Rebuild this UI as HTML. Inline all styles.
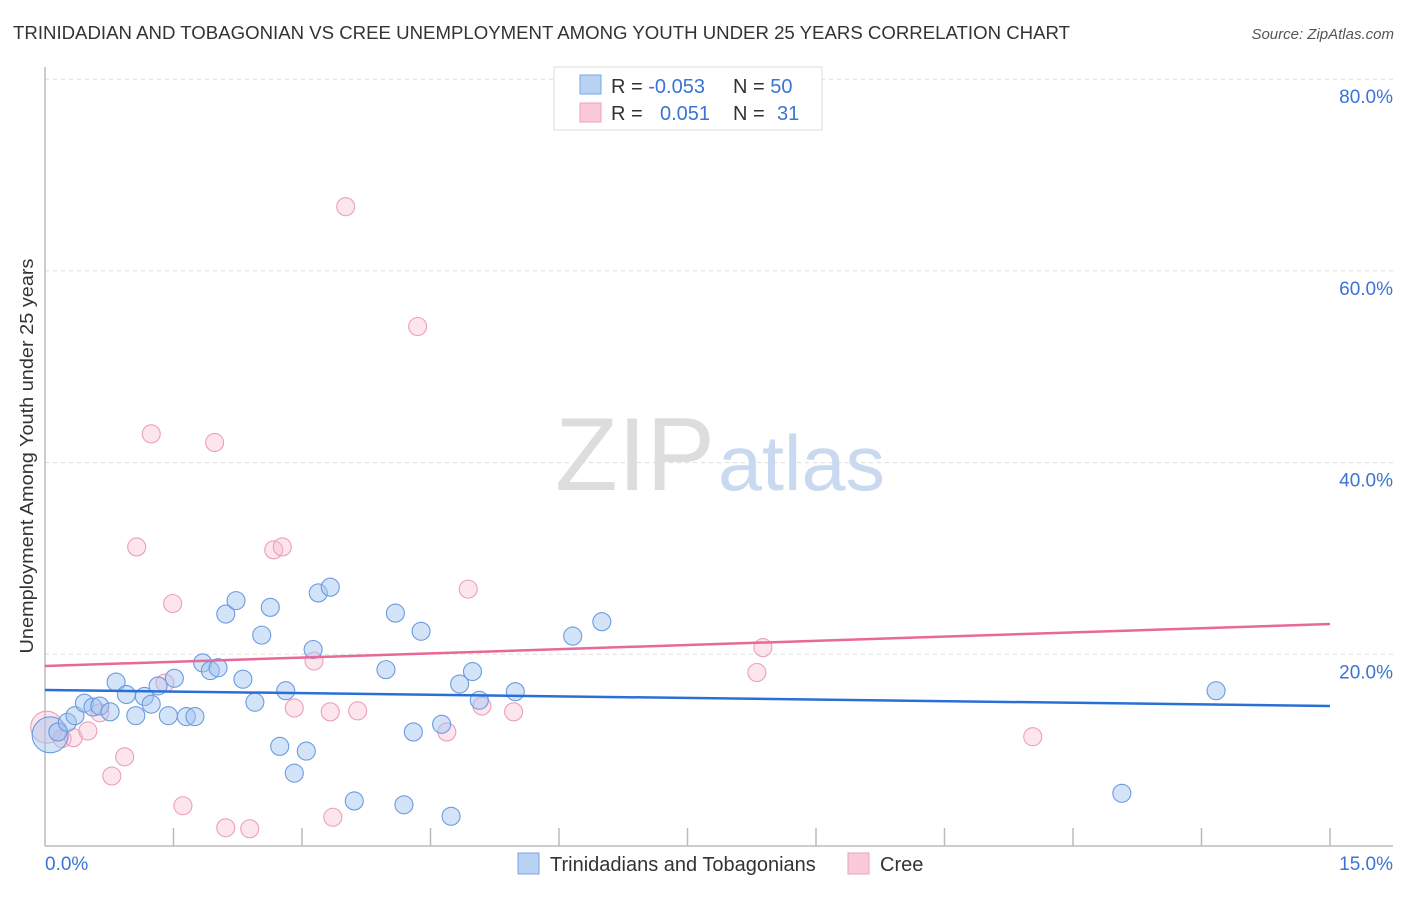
<!DOCTYPE html>
<html><head><meta charset="utf-8"><style>
body{margin:0;background:#fff;font-family:"Liberation Sans",sans-serif;}
svg text{font-family:"Liberation Sans",sans-serif;}
</style></head><body>
<svg id="chart" width="1406" height="892" viewBox="0 0 1406 892" xmlns="http://www.w3.org/2000/svg">
<text x="13" y="39" font-size="18" fill="#333" textLength="1057" lengthAdjust="spacingAndGlyphs">TRINIDADIAN AND TOBAGONIAN VS CREE UNEMPLOYMENT AMONG YOUTH UNDER 25 YEARS CORRELATION CHART</text>
<text x="1394" y="39" font-size="15" font-style="italic" fill="#555" text-anchor="end">Source: ZipAtlas.com</text>
<g id="grid"></g>
<g>
<text x="555" y="490" font-size="104" font-family="Liberation Serif,serif" fill="#ddd" textLength="160" lengthAdjust="spacingAndGlyphs">ZIP</text>
<text x="718" y="490" font-size="78" fill="#c8d9f0" textLength="167" lengthAdjust="spacingAndGlyphs">atlas</text>
</g>
<line x1="45" y1="67" x2="45" y2="846" stroke="#bbb" stroke-width="1.5"/>
<line x1="45" y1="846" x2="1393" y2="846" stroke="#bbb" stroke-width="1.5"/>
<g id="ticks"></g>
<g id="points"></g>
<g id="trends"></g>
<text transform="translate(33,456) rotate(-90)" font-size="18" fill="#333" text-anchor="middle" textLength="395" lengthAdjust="spacingAndGlyphs">Unemployment Among Youth under 25 years</text>
<text x="45" y="870" font-size="19" fill="#3a74d4">0.0%</text>
<text x="1393" y="870" font-size="19" fill="#3a74d4" text-anchor="end">15.0%</text>
<g>
<rect x="554" y="67" width="268" height="63" fill="#fff" stroke="#ddd"/>
<rect x="580" y="75" width="21" height="19" fill="#b8d2f4" stroke="#7aa6e4"/>
<rect x="580" y="103" width="21" height="19" fill="#fbcad9" stroke="#eea3bb"/>
<text x="611" y="93" font-size="20" fill="#333">R = <tspan fill="#3a74d4">-0.053</tspan><tspan x="733">N = </tspan><tspan fill="#3a74d4">50</tspan></text>
<text x="611" y="120" font-size="20" fill="#333">R = <tspan x="660" fill="#3a74d4">0.051</tspan><tspan x="733">N = </tspan><tspan x="777" fill="#3a74d4">31</tspan></text>
</g>
<g>
<rect x="518" y="853" width="21" height="21" fill="#b8d2f4" stroke="#7aa6e4"/>
<text x="550" y="871" font-size="20" fill="#333">Trinidadians and Tobagonians</text>
<rect x="848" y="853" width="21" height="21" fill="#fbcad9" stroke="#eea3bb"/>
<text x="880" y="871" font-size="20" fill="#333">Cree</text>
</g>
</svg>
<script>
const yTicks=[20,40,60,80];
const yTickLabels=["20.0%","40.0%","60.0%","80.0%"];
const xTicks=[1.5,3,4.5,6,7.5,9,10.5,12,13.5,15];
const blueX=[0.06,0.15,0.26,0.35,0.46,0.56,0.64,0.76,0.83,0.95,1.06,1.16,1.24,1.32,1.44,1.51,1.65,1.75,1.84,1.93,2.02,2.11,2.23,2.31,2.45,2.53,2.63,2.74,2.81,2.91,3.05,3.13,3.19,3.33,3.61,3.98,4.09,4.19,4.30,4.39,4.63,4.74,4.84,4.99,5.07,5.49,6.16,6.50,12.57,13.67];
const blueY=[11.6,11.9,12.9,13.6,14.9,14.5,14.6,14.0,17.1,15.8,13.6,15.6,14.8,16.7,13.6,17.5,13.5,13.5,19.1,18.3,18.6,24.2,25.6,17.4,15.0,22.0,24.9,10.4,16.2,7.6,9.9,20.5,26.4,27.0,4.7,18.4,24.3,4.3,11.9,22.4,12.7,3.1,16.9,18.2,15.2,16.1,21.9,23.4,5.5,16.2];
const pinkX=[0.02,0.20,0.33,0.50,0.64,0.78,0.93,1.07,1.24,1.40,1.49,1.61,1.98,2.11,2.39,2.67,2.77,2.91,3.14,3.33,3.36,3.51,3.65,4.35,4.69,4.94,5.10,5.47,8.31,8.38,11.53];
const pinkY=[12.4,11.2,11.3,12.0,13.9,7.3,9.3,31.2,43.0,17.0,25.3,4.2,42.1,1.9,1.8,30.9,31.2,14.4,19.3,14.0,3.0,66.7,14.1,54.2,11.9,26.8,14.6,14.0,18.1,20.7,11.4];
const blueTrend=[16.28,14.61];
const pinkTrend=[18.78,23.16];
const trendX=[0,15];
const NS="http://www.w3.org/2000/svg";
const xs=v=>45+v*1285/15;
const ys=v=>846-v*9.585;
function mk(tag,attrs,parent){const e=document.createElementNS(NS,tag);for(const k in attrs)e.setAttribute(k,attrs[k]);parent.appendChild(e);return e;}
const grid=document.getElementById('grid');
yTicks.forEach((t,i)=>{
 const l=mk('line',{x1:45,x2:1393,y1:ys(t),y2:ys(t),stroke:'#ddd','stroke-dasharray':'4,4'},grid);
 
 
 const tx=mk('text',{x:1393,y:ys(t)+24,'font-size':19,fill:'#3a74d4','text-anchor':'end'},grid);
 tx.textContent=yTickLabels[i];
 
 
});
const ticks=document.getElementById('ticks');
xTicks.forEach(t=>{
 const l=mk('line',{x1:xs(t),x2:xs(t),y1:828,y2:846,stroke:'#bbb','stroke-width':1.5},ticks);
 
 
});
const pts=document.getElementById('points');
function draw(X,Y,fill,stroke,name,bigR){
 X.forEach((x,i)=>{
  const r=(i===0)?bigR:9;
  const c=mk('circle',{cx:xs(x),cy:ys(Y[i]),r:r,fill:fill,stroke:stroke,'stroke-width':1.1},pts);
  
  
 });
}
draw(pinkX,pinkY,'rgba(248,180,202,0.35)','#eba0b8','point-cree',16);
draw(blueX,blueY,'rgba(160,195,240,0.45)','#6a9be0','point-trinidadian',18);
const tr=document.getElementById('trends');
const bl=mk('line',{x1:xs(trendX[0]),x2:xs(trendX[1]),y1:ys(blueTrend[0]),y2:ys(blueTrend[1]),stroke:'#2a6fd6','stroke-width':2.5},tr);


const pl=mk('line',{x1:xs(trendX[0]),x2:xs(trendX[1]),y1:ys(pinkTrend[0]),y2:ys(pinkTrend[1]),stroke:'#e8689a','stroke-width':2.5},tr);


</script>
</body></html>
